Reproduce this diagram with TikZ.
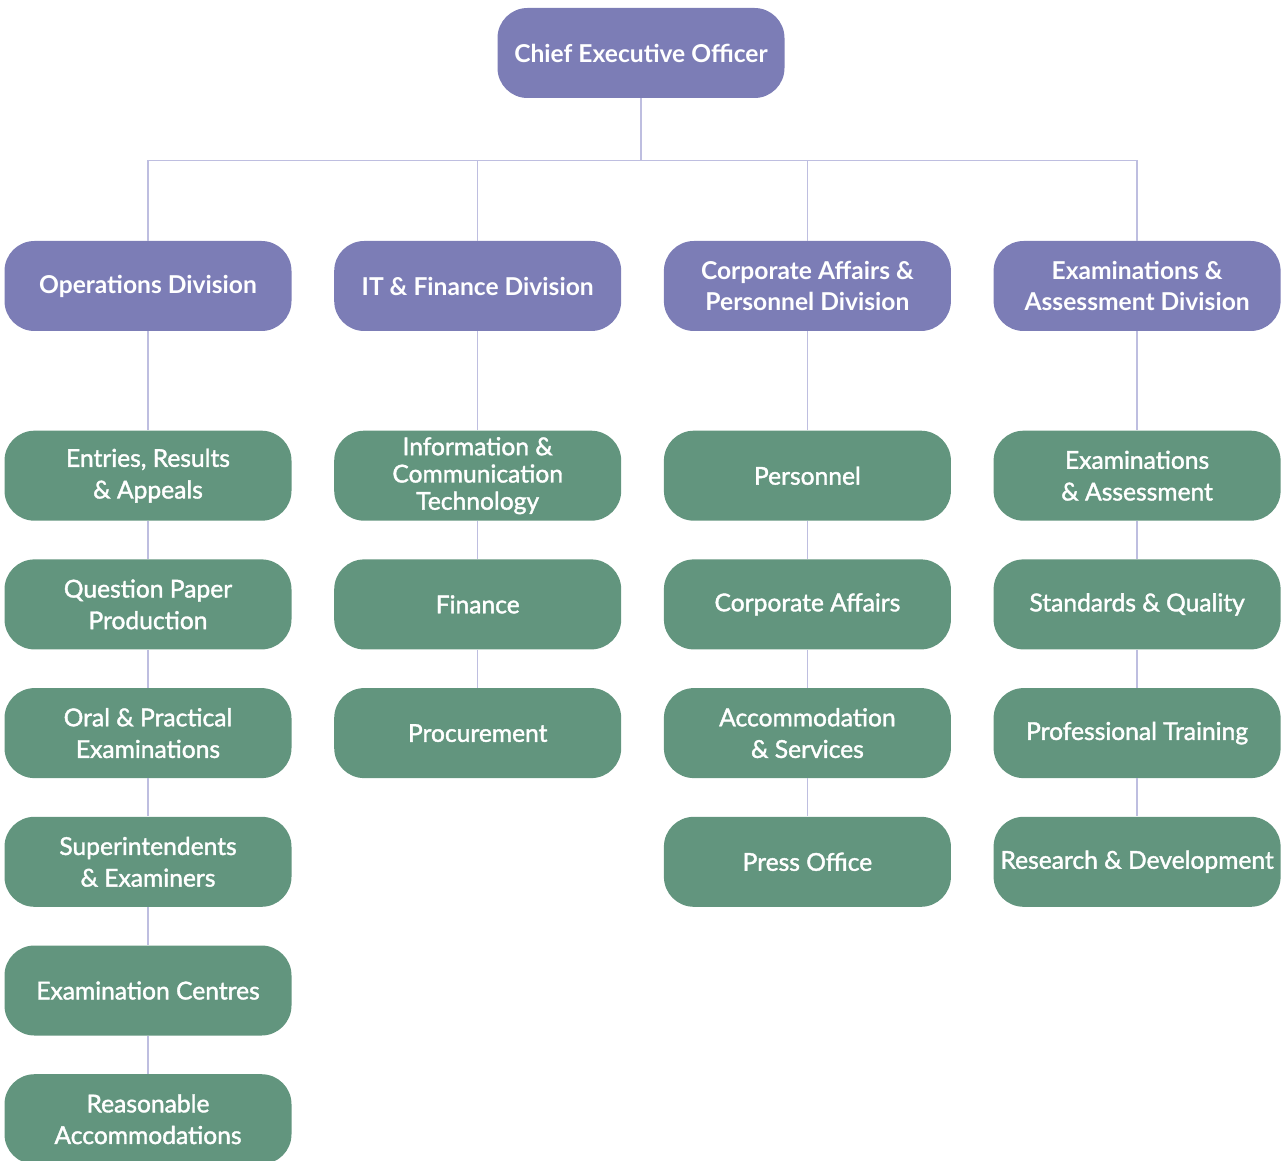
\documentclass[tikz,border=0pt]{standalone}
\usepackage{fontspec}
\setmainfont{Lato}
\newfontfamily\unitfont{Lato}[FakeBold=1.6]
\usetikzlibrary{positioning}

\definecolor{divpurple}{HTML}{7C7DB6}
\definecolor{unitgreen}{HTML}{62957E}
\definecolor{linklilac}{HTML}{BEBEE0}

\tikzset{
  head/.style={rectangle, rounded corners=0.6cm, fill=divpurple, text=white,
    minimum width=5.74cm, minimum height=1.8cm, inner sep=2pt, align=center,
    font=\bfseries\fontsize{14}{18}\selectfont},
  unit/.style={head, fill=unitgreen, font=\unitfont\fontsize{14}{18}\selectfont},
  link/.style={draw=linklilac, line width=0.9pt}
}

\begin{document}
\begin{tikzpicture}[node distance=0.76cm]
    \useasboundingbox (0,0) rectangle (25.62,-23.22);

    % top and divisions
    \node[head] (ceo) at (12.82,-1.06) {Chief Executive Officer};
    \node[head] (ops) at (2.96,-5.72) {Operations Division};
    \node[head, right=0.84cm of ops] (itf) {IT \& Finance Division};
    \node[head, right=0.84cm of itf] (corp) {Corporate Affairs \&\\Personnel Division};
    \node[head, right=0.84cm of corp] (exam) {Examinations \&\\Assessment Division};

    % operations
    \node[unit, below=1.98cm of ops] (entries) {Entries, Results\\\& Appeals};
    \node[unit, below=of entries] (qpp) {Question Paper\\Production};
    \node[unit, below=of qpp] (oral) {Oral \& Practical\\Examinations};
    \node[unit, below=of oral] (super) {Superintendents\\\& Examiners};
    \node[unit, below=of super] (centres) {Examination Centres};
    \node[unit, below=of centres] (reason) {Reasonable\\Accommodations};

    % it and finance
    \node[unit, below=1.98cm of itf, font=\unitfont\fontsize{14}{15.5}\selectfont] (ict) {Information \&\\Communication\\Technology};
    \node[unit, below=of ict] (fin) {Finance};
    \node[unit, below=of fin] (proc) {Procurement};

    % corporate affairs
    \node[unit, below=1.98cm of corp] (pers) {Personnel};
    \node[unit, below=of pers] (caff) {Corporate Affairs};
    \node[unit, below=of caff] (accom) {Accommodation\\\& Services};
    \node[unit, below=of accom] (press) {Press Office};

    % examinations
    \node[unit, below=1.98cm of exam] (exas) {Examinations\\\& Assessment};
    \node[unit, below=of exas] (stq) {Standards \& Quality};
    \node[unit, below=of stq] (prof) {Professional Training};
    \node[unit, below=of prof] (rnd) {Research \& Development};

    % connectors
    \draw[link] (ceo.south) -- ++(0,-1.24) coordinate (bus);
    \foreach \d in {ops,itf,corp,exam}
        \draw[link] (bus) -| (\d.north);
    \foreach \a/\b in {ops/entries,entries/qpp,qpp/oral,oral/super,super/centres,centres/reason,
                       itf/ict,ict/fin,fin/proc,
                       corp/pers,pers/caff,caff/accom,accom/press,
                       exam/exas,exas/stq,stq/prof,prof/rnd}
        \draw[link] (\a.south) -- (\b.north);
\end{tikzpicture}
\end{document}
